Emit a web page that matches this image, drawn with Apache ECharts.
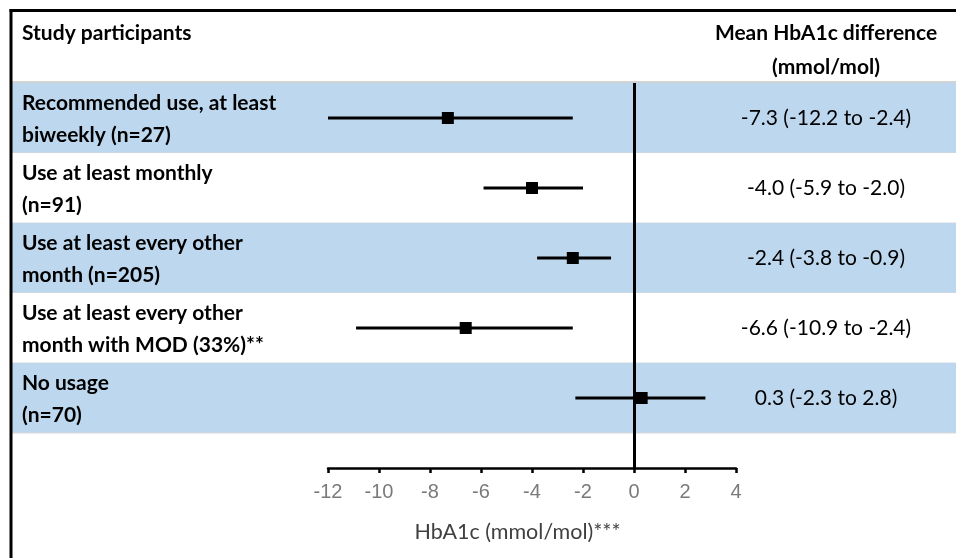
<!DOCTYPE html>
<html>
<head>
<meta charset="utf-8">
<script src="https://cdn.jsdelivr.net/npm/echarts@6/dist/echarts.min.js"></script>
<style>
  html, body { margin: 0; padding: 0; background: #fff; }
  #chart { width: 956px; height: 558px; }
</style>
</head>
<body>
<div id="chart"></div>
<script>
// rows of the forest plot, top to bottom
var groups = [
  'Recommended use, at least\nbiweekly (n=27)',
  'Use at least monthly\n(n=91)',
  'Use at least every other\nmonth (n=205)',
  'Use at least every other\nmonth with MOD (33%)**',
  'No usage\n(n=70)'
]
var means = [-7.3, -4.0, -2.4, -6.6, 0.3]
var lower = [-12.2, -5.9, -3.8, -10.9, -2.3]
var upper = [-2.4, -2.0, -0.9, -2.4, 2.8]
var shaded = [true, false, true, false, true]
var xTicks = [-12, -10, -8, -6, -4, -2, 0, 2, 4]

var ciText = means.map(function (m, i) {
  return m.toFixed(1) + ' (' + lower[i].toFixed(1) + ' to ' + upper[i].toFixed(1) + ')'
})

var FONT = 'Lato, "Open Sans", sans-serif'
var BLUE = '#BDD7EE'

var chart = echarts.init(document.getElementById('chart'))

var rowData = groups.map(function (g, i) { return [i] })
var ciData = means.map(function (m, i) { return [means[i], lower[i], upper[i], i + 0.5] })

chart.setOption({
  animation: false,
  grid: [
    { left: 12, right: 0, top: 83, bottom: 90 },
    { left: 328, width: 408, top: 83, bottom: 90 }
  ],
  xAxis: [
    { gridIndex: 0, type: 'value', min: 0, max: 1, show: false },
    {
      gridIndex: 1, type: 'value', min: xTicks[0], max: xTicks[xTicks.length - 1], interval: 2,
      splitLine: { show: false },
      axisLine: { show: true, onZero: false, lineStyle: { color: '#000', width: 2.5 } },
      axisTick: { show: true, length: 5, lineStyle: { color: '#000', width: 2.5 } },
      axisLabel: { margin: 14, color: '#7a7a7a', fontSize: 20, fontFamily: 'Liberation Sans' },
      name: 'HbA1c (mmol/mol)***',
      nameLocation: 'middle',
      nameGap: 53,
      nameTextStyle: { color: '#404040', fontSize: 21.5, fontFamily: FONT, padding: [0, 29, 0, 0] }
    }
  ],
  yAxis: [
    { gridIndex: 0, type: 'value', min: 0, max: 5.5, inverse: true, show: false },
    { gridIndex: 1, type: 'value', min: 0, max: 5.5, inverse: true, show: false }
  ],
  graphic: [
    { type: 'line', shape: { x1: 9.5, y1: 10.5, x2: 956, y2: 10.5 }, style: { stroke: '#000', lineWidth: 3 }, z: 50 },
    { type: 'line', shape: { x1: 11, y1: 9, x2: 11, y2: 558 }, style: { stroke: '#000', lineWidth: 3 }, z: 50 },
    { type: 'line', shape: { x1: 12, y1: 82, x2: 956, y2: 82 }, style: { stroke: '#A6A6A6', lineWidth: 1 }, z: 5 },
    { type: 'text', x: 22, y: 33, style: { text: 'Study participants', font: 'bold 21px ' + FONT, fill: '#000', verticalAlign: 'middle' } },
    {
      type: 'text', x: 826, y: 50,
      style: { text: 'Mean HbA1c difference\n(mmol/mol)', font: 'bold 21px ' + FONT, fill: '#000', align: 'center', verticalAlign: 'middle', lineHeight: 34 }
    }
  ],
  series: [
    {
      // row bands with the labels and the CI text
      type: 'custom',
      xAxisIndex: 0, yAxisIndex: 0,
      data: rowData,
      z: 1,
      renderItem: function (params, api) {
        var i = api.value(0)
        var tl = api.coord([0, i])
        var br = api.coord([1, i + 1])
        var mid = (tl[1] + br[1]) / 2
        return {
          type: 'group',
          children: [
            {
              type: 'rect',
              shape: { x: tl[0], y: tl[1], width: br[0] - tl[0], height: br[1] - tl[1] },
              style: { fill: shaded[i] ? BLUE : '#fff' }
            },
            {
              type: 'line',
              shape: { x1: tl[0], y1: br[1], x2: br[0], y2: br[1] },
              style: { stroke: '#D9D9D9', lineWidth: 1 }
            },
            {
              type: 'text',
              style: {
                x: 22, y: mid + 1.5, text: groups[i], font: 'bold 21px ' + FONT, fill: '#000',
                verticalAlign: 'middle', lineHeight: 32
              }
            },
            {
              type: 'text',
              style: {
                x: 826, y: mid, text: ciText[i], font: '21px ' + FONT, fill: '#000',
                align: 'center', verticalAlign: 'middle'
              }
            }
          ]
        }
      }
    },
    {
      // whiskers + point estimates
      type: 'custom',
      xAxisIndex: 1, yAxisIndex: 1,
      data: ciData,
      clip: true,
      z: 10,
      renderItem: function (params, api) {
        var c = api.coord([api.value(0), api.value(3)])
        var lo = api.coord([api.value(1), api.value(3)])
        var hi = api.coord([api.value(2), api.value(3)])
        return {
          type: 'group',
          children: [
            { type: 'line', shape: { x1: lo[0], y1: lo[1], x2: hi[0], y2: hi[1] }, style: { stroke: '#000', lineWidth: 3 } },
            { type: 'rect', shape: { x: c[0] - 6, y: c[1] - 6, width: 12, height: 12 }, style: { fill: '#000' } }
          ]
        }
      },
      markLine: {
        silent: true,
        symbol: 'none',
        label: { show: false },
        lineStyle: { color: '#000', width: 3, type: 'solid' },
        data: [{ xAxis: 0 }]
      }
    }
  ]
})
</script>
</body>
</html>
